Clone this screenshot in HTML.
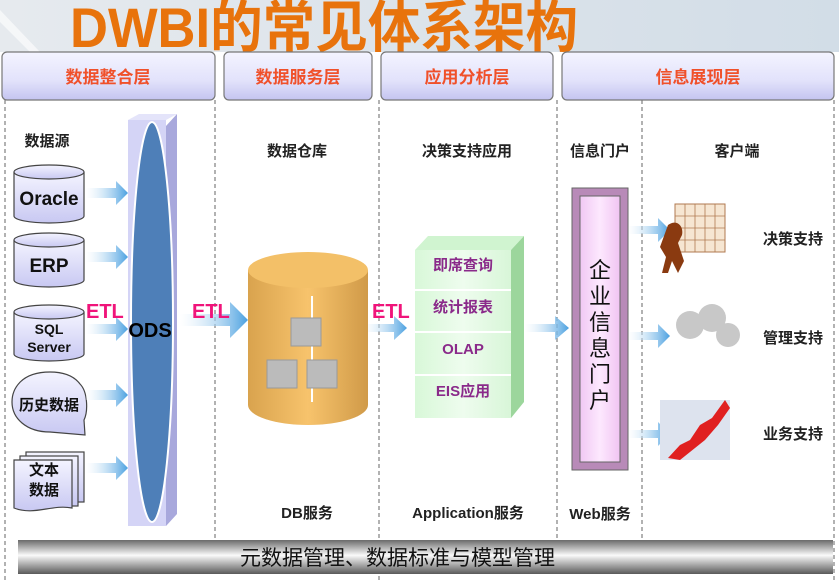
<!DOCTYPE html>
<html><head><meta charset="utf-8"><style>
html,body{margin:0;padding:0;background:#fff;}
svg{display:block;}
text{font-family:"Liberation Sans","Noto Sans CJK SC",sans-serif;}
</style></head><body>
<svg width="839" height="580" viewBox="0 0 839 580" xmlns="http://www.w3.org/2000/svg">
<defs>
<linearGradient id="topbg" x1="0" y1="0" x2="1" y2="0"><stop offset="0" stop-color="#e6eaee"/><stop offset="1" stop-color="#d2dde7"/></linearGradient>
<linearGradient id="hdr" x1="0" y1="0" x2="0" y2="1"><stop offset="0" stop-color="#f4f4ff"/><stop offset="0.6" stop-color="#e2e2fb"/><stop offset="1" stop-color="#c4c4f0"/></linearGradient>
<linearGradient id="bar" x1="0" y1="0" x2="0" y2="1"><stop offset="0" stop-color="#6a6a6a"/><stop offset="0.45" stop-color="#fafafa"/><stop offset="1" stop-color="#5a5a5a"/></linearGradient>
<linearGradient id="cyl" x1="0" y1="0" x2="0" y2="1"><stop offset="0" stop-color="#f4f4ff"/><stop offset="1" stop-color="#c8c8f2"/></linearGradient>
<linearGradient id="arr" x1="0" y1="0" x2="1" y2="0"><stop offset="0" stop-color="#ffffff" stop-opacity="0.3"/><stop offset="1" stop-color="#4aa0e0"/></linearGradient>
<linearGradient id="db" x1="0" y1="0" x2="1" y2="0"><stop offset="0" stop-color="#d9a34e"/><stop offset="0.5" stop-color="#f7c36c"/><stop offset="1" stop-color="#d09a48"/></linearGradient>
<linearGradient id="grn" x1="0" y1="0" x2="1" y2="0"><stop offset="0" stop-color="#d8f8d8"/><stop offset="0.5" stop-color="#eefcee"/><stop offset="1" stop-color="#d8f6d8"/></linearGradient>
<linearGradient id="pink" x1="0" y1="0" x2="1" y2="0"><stop offset="0" stop-color="#f0c8f4"/><stop offset="0.5" stop-color="#fde8fe"/><stop offset="1" stop-color="#f0c4f2"/></linearGradient>
</defs>
<rect x="0" y="0" width="839" height="52" fill="url(#topbg)"/>
<path d="M0 10 L40 52 L30 52 L0 22Z" fill="#fff" opacity="0.6"/>
<text x="70" y="47" font-size="56" font-weight="bold" fill="#e8730c" textLength="508" lengthAdjust="spacingAndGlyphs">DWBI的常见体系架构</text>

<g stroke="#666" stroke-width="1" stroke-dasharray="4,3">
<line x1="5" y1="100" x2="5" y2="580"/><line x1="215" y1="100" x2="215" y2="540"/>
<line x1="379" y1="100" x2="379" y2="580"/><line x1="557" y1="100" x2="557" y2="540"/>
<line x1="642" y1="100" x2="642" y2="540"/><line x1="834" y1="100" x2="834" y2="580"/>
</g>

<g stroke="#777" stroke-width="1.2">
<rect x="2" y="52" width="213" height="48" rx="5" fill="url(#hdr)"/>
<rect x="224" y="52" width="148" height="48" rx="5" fill="url(#hdr)"/>
<rect x="381" y="52" width="172" height="48" rx="5" fill="url(#hdr)"/>
<rect x="562" y="52" width="272" height="48" rx="5" fill="url(#hdr)"/>
</g>
<g font-size="17" fill="#f0502a" text-anchor="middle" font-weight="bold">
<text x="108" y="83">数据整合层</text><text x="298" y="83">数据服务层</text>
<text x="467" y="83">应用分析层</text><text x="698" y="83">信息展现层</text>
</g>

<g font-size="15" font-weight="bold" fill="#222" text-anchor="middle">
<text x="47" y="146">数据源</text><text x="297" y="156">数据仓库</text>
<text x="467" y="156">决策支持应用</text><text x="600" y="156">信息门户</text>
<text x="737" y="156">客户端</text>
<text x="307" y="518">DB服务</text><text x="468" y="518">Application服务</text>
<text x="600" y="519">Web服务</text>
<text x="793" y="244">决策支持</text><text x="793" y="343">管理支持</text><text x="793" y="439">业务支持</text>
</g>

<g stroke="#444" stroke-width="1.2" fill="url(#cyl)">
<path d="M14 172 v44 a35 7 0 0 0 70 0 v-44"/><ellipse cx="49" cy="172" rx="35" ry="7"/>
<path d="M14 240 v40 a35 7 0 0 0 70 0 v-40"/><ellipse cx="49" cy="240" rx="35" ry="7"/>
<path d="M14 312 v42 a35 7 0 0 0 70 0 v-42"/><ellipse cx="49" cy="312" rx="35" ry="7"/>
<path d="M50 372 C20 372 12 390 12 402 C12 418 26 432 50 432 L85 435 L84 420 C88 412 88 392 80 384 C74 376 64 372 50 372Z"/>
<rect x="26" y="452" width="58" height="50"/><rect x="20" y="456" width="58" height="50"/>
<path d="M14 460 h58 v48 c-20 -4 -38 8 -58 0Z"/>
</g>
<g font-weight="bold" fill="#111" text-anchor="middle">
<text x="49" y="205" font-size="19">Oracle</text>
<text x="49" y="272" font-size="19">ERP</text>
<text x="49" y="334" font-size="14">SQL</text><text x="49" y="352" font-size="14">Server</text>
<text x="49" y="410" font-size="15">历史数据</text>
<text x="44" y="475" font-size="15">文本</text><text x="44" y="495" font-size="15">数据</text>
</g>

<g fill="url(#arr)">
<path d="M86 188 h30 v-7 l12 12 l-12 12 v-7 h-30z"/>
<path d="M86 252 h30 v-7 l12 12 l-12 12 v-7 h-30z"/>
<path d="M86 324 h30 v-7 l12 12 l-12 12 v-7 h-30z"/>
<path d="M86 390 h30 v-7 l12 12 l-12 12 v-7 h-30z"/>
<path d="M86 463 h30 v-7 l12 12 l-12 12 v-7 h-30z"/>
<path d="M180 314 h50 v-12 l18 18 l-18 18 v-12 h-50z"/>
<path d="M364 324 h30 v-8 l13 12 l-13 12 v-8 h-30z"/>
<path d="M525 324 h30 v-8 l14 12 l-14 12 v-8 h-30z"/>
<path d="M628 226 h30 v-8 l12 12 l-12 12 v-8 h-30z"/>
<path d="M628 332 h30 v-8 l12 12 l-12 12 v-8 h-30z"/>
<path d="M628 430 h30 v-8 l12 12 l-12 12 v-8 h-30z"/>
</g>

<rect x="128" y="120" width="38" height="406" fill="#d4d4f6"/>
<path d="M166 126 L177 114 V514 L166 526Z" fill="#a8a8dc"/>
<path d="M128 120 L139 114 H177 L166 120Z" fill="#e4e4fa"/>
<ellipse cx="152" cy="322" rx="21" ry="200" fill="#4e7fb8" stroke="#fff" stroke-width="2"/>
<text x="150" y="337" font-size="20" font-weight="bold" fill="#000" text-anchor="middle">ODS</text>
<g font-size="20" font-weight="bold" fill="#f0147a">
<text x="86" y="318">ETL</text><text x="192" y="318">ETL</text><text x="372" y="318">ETL</text>
</g>

<path d="M248 270 V405 A60 20 0 0 0 368 405 V270Z" fill="url(#db)"/>
<ellipse cx="308" cy="270" rx="60" ry="18" fill="#f3c068"/>
<line x1="312" y1="296" x2="312" y2="402" stroke="#fff" stroke-width="2"/>
<g fill="#bbb" stroke="#999"><rect x="291" y="318" width="30" height="28"/><rect x="267" y="360" width="30" height="28"/><rect x="307" y="360" width="30" height="28"/></g>

<path d="M415 250 L428 236 H524 L511 250Z" fill="#d0f4d0"/>
<path d="M511 250 L524 236 V402 L511 418Z" fill="#9cd69c"/>
<rect x="415" y="250" width="96" height="168" fill="url(#grn)"/>
<g stroke="#fff" stroke-width="2"><line x1="415" y1="290" x2="511" y2="290"/><line x1="415" y1="332" x2="511" y2="332"/><line x1="415" y1="375" x2="511" y2="375"/></g>
<g font-size="15" font-weight="bold" fill="#8a2a8a" text-anchor="middle">
<text x="463" y="270">即席查询</text>
<text x="463" y="312">统计报表</text>
<text x="463" y="354">OLAP</text>
<text x="463" y="396">EIS应用</text>
</g>

<rect x="572" y="188" width="56" height="282" fill="#b88ab8" stroke="#666"/>
<rect x="580" y="196" width="40" height="266" fill="url(#pink)" stroke="#666"/>
<g font-size="22" fill="#111" text-anchor="middle">
<text x="600" y="278">企</text>
<text x="600" y="304">业</text>
<text x="600" y="330">信</text>
<text x="600" y="356">息</text>
<text x="600" y="382">门</text>
<text x="600" y="408">户</text>
</g>

<rect x="675" y="204" width="50" height="48" fill="#f6e6d2" stroke="#b07a50"/>
<g stroke="#b07a50" stroke-width="0.8"><line x1="685" y1="204" x2="685" y2="252"/><line x1="695" y1="204" x2="695" y2="252"/><line x1="705" y1="204" x2="705" y2="252"/><line x1="715" y1="204" x2="715" y2="252"/><line x1="675" y1="216" x2="725" y2="216"/><line x1="675" y1="228" x2="725" y2="228"/><line x1="675" y1="240" x2="725" y2="240"/></g>
<path d="M668 225 c8 -6 16 0 14 10 l-4 8 l6 18 l-6 12 l-6 -12 l-4 12 l-6 0 l4 -16 l-6 -10 z" fill="#8a3a10"/>
<g fill="#c8c8c8"><circle cx="690" cy="325" r="14"/><circle cx="712" cy="318" r="14"/><circle cx="728" cy="335" r="12"/></g>
<rect x="660" y="400" width="70" height="60" fill="#dde3ee"/>
<path d="M668 458 L680 445 L690 440 L700 425 L712 418 L725 400 L730 408 L718 425 L705 440 L690 452 L680 460Z" fill="#e02020"/>

<rect x="18" y="540" width="815" height="34" fill="url(#bar)"/>
<text x="240" y="565" font-size="21" fill="#111">元数据管理、数据标准与模型管理</text>
</svg>
</body></html>
